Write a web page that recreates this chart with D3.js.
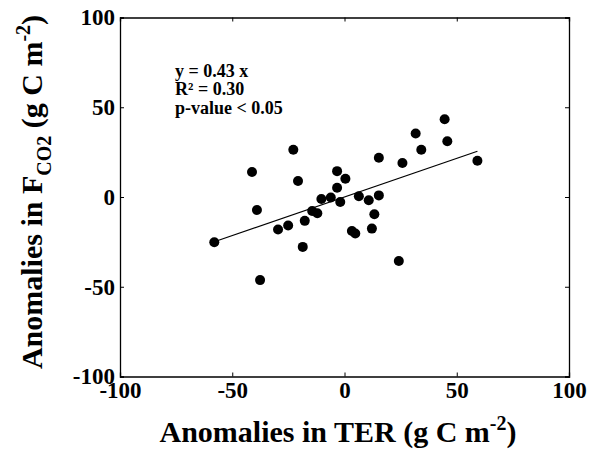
<!DOCTYPE html>
<html>
<head>
<meta charset="utf-8">
<script src="https://cdn.jsdelivr.net/npm/d3@7"></script>
<style>
  body { margin: 0; background: #fff; }
  svg { font-family: "Liberation Serif", "Times New Roman", serif; font-weight: bold; }
</style>
</head>
<body>
<svg id="chart"></svg>
<script>
(function() {

// anomalies in TER (x) and F_CO2 (y), g C m-2
const terValues = [-58, -41.2, -39, -37.6, -22.8, -20.7, -29.6, -25.1, -17.7, -18.6,
    -14.4, -12.1, -10.3, -6.1, -1.9, -3.3, -3.3, 0.4, 6.4, 10.8,
    15.3, 15.3, 13.3, 12.2, 3.3, 4.8, 24.2, 25.8, 34.2, 45.8,
    59.2, 31.7, 44.6];
const fco2Values = [-25.2, 13.9, -7.2, -46.3, 26.3, 8.9, -18.1, -15.9, -13.3, -27.8,
    -7.8, -9.1, -1.1, -0.3, -2.8, 14.4, 5.2, 10.2, 0.4, -1.8,
    0.9, 21.9, -9.6, -17.6, -18.9, -20.3, -35.7, 18.9, 26.3, 31.1,
    20.2, 35.4, 43.3];
const slope = 0.43;
const ticks = [-100, -50, 0, 50, 100];
const statLines = ["y = 0.43 x", "R² = 0.30", "p-value < 0.05"];

const W = 593, H = 455;
const margin = { top: 17.5, right: 24, bottom: 78.5, left: 120 };
const width = W - margin.left - margin.right;
const height = H - margin.top - margin.bottom;

const svg = d3.select("#chart")
    .attr("width", W)
    .attr("height", H);

const g = svg.append("g")
    .attr("transform", `translate(${margin.left},${margin.top})`);

const x = d3.scaleLinear().domain([-100, 100]).range([0, width]);
const y = d3.scaleLinear().domain([-100, 100]).range([height, 0]);

const data = terValues.map((v, i) => ({ x: v, y: fco2Values[i] }));

// axes, ticks pointing inward on all four sides
const tickLen = 4;
const fmt = d => String(d);   // plain hyphen like the original
g.append("g")
    .attr("transform", `translate(0,${height})`)
    .call(d3.axisBottom(x).tickValues(ticks).tickSize(-tickLen).tickPadding(5).tickFormat(fmt));
g.append("g")
    .call(d3.axisLeft(y).tickValues(ticks).tickSize(-tickLen).tickPadding(5).tickFormat(fmt));
g.append("g")
    .call(d3.axisTop(x).tickValues(ticks).tickSize(-tickLen).tickFormat(""));
g.append("g")
    .attr("transform", `translate(${width},0)`)
    .call(d3.axisRight(y).tickValues(ticks).tickSize(-tickLen).tickFormat(""));

g.selectAll(".domain").attr("stroke", "#000").attr("stroke-width", 1.3);
g.selectAll(".tick line").attr("stroke", "#000");
g.selectAll(".tick text")
    .attr("font-size", "23px")
    .attr("font-family", "Liberation Serif, serif")
    .attr("font-weight", "bold")
    .attr("fill", "#000");

// regression line
const xr = d3.extent(terValues);
g.append("line")
    .attr("x1", x(xr[0])).attr("y1", y(slope * xr[0]))
    .attr("x2", x(xr[1])).attr("y2", y(slope * xr[1]))
    .attr("stroke", "#000")
    .attr("stroke-width", 1.2);

g.selectAll(".dot")
    .data(data)
    .enter().append("circle")
    .attr("class", "dot")
    .attr("cx", d => x(d.x))
    .attr("cy", d => y(d.y))
    .attr("r", 5)
    .attr("fill", "#000");

// stats text
g.append("text")
    .attr("font-size", "18px")
    .selectAll("tspan")
    .data(statLines)
    .enter().append("tspan")
    .attr("x", 55)
    .attr("y", (d, i) => [59.5, 77.5, 96][i])
    .text(d => d);

// x title
const xt = svg.append("text")
    .attr("x", 338)
    .attr("y", 442)
    .attr("text-anchor", "middle")
    .attr("font-size", "30px");
xt.append("tspan").text("Anomalies in TER (g C m");
xt.append("tspan").attr("dy", -12).attr("font-size", "20px").text("-2");
xt.append("tspan").attr("dy", 12).text(")");

// y title
const yt = svg.append("text")
    .attr("transform", "translate(42,192) rotate(-90)")
    .attr("text-anchor", "middle")
    .attr("font-size", "30px");
yt.append("tspan").text("Anomalies in F");
yt.append("tspan").attr("dy", 9).attr("font-size", "20px").text("CO2");
yt.append("tspan").attr("dy", -9).text(" (g C m");
yt.append("tspan").attr("dy", -12).attr("font-size", "20px").text("-2");
yt.append("tspan").attr("dy", 12).text(")");

})();
</script>
</body>
</html>
